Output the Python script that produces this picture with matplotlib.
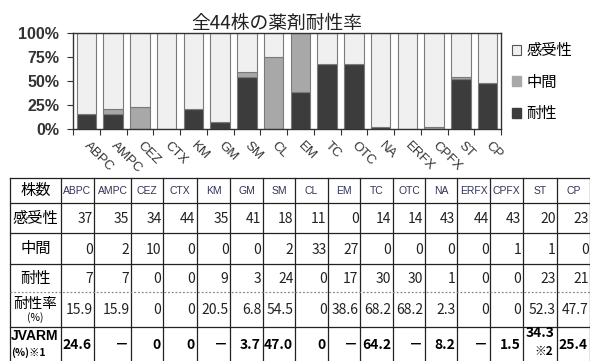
import matplotlib

matplotlib.use("Agg")
import matplotlib.pyplot as plt
import matplotlib.transforms as mtransforms
import numpy as np
from matplotlib.patches import Patch
from matplotlib.ticker import PercentFormatter

plt.rcParams["font.family"] = ["Noto Sans CJK JP", "DejaVu Sans"]

# --- datos ---
drugs = ["ABPC", "AMPC", "CEZ", "CTX", "KM", "GM", "SM", "CL",
         "EM", "TC", "OTC", "NA", "ERFX", "CPFX", "ST", "CP"]
susceptible = [37, 35, 34, 44, 35, 41, 18, 11, 0, 14, 14, 43, 44, 43, 20, 23]
intermediate = [0, 2, 10, 0, 0, 0, 2, 33, 27, 0, 0, 0, 0, 1, 1, 0]
resistant = [7, 7, 0, 0, 9, 3, 24, 0, 17, 30, 30, 1, 0, 0, 23, 21]
resist_rate = ["15.9", "15.9", "0", "0", "20.5", "6.8", "54.5", "0",
               "38.6", "68.2", "68.2", "2.3", "0", "0", "52.3", "47.7"]
jvarm = ["24.6", "－", "0", "0", "－", "3.7", "47.0", "0",
         "－", "64.2", "－", "8.2", "－", "1.5", "34.3\n※2", "25.4"]
row_labels = ["感受性", "中間", "耐性", "耐性率", "JVARM"]

C_RES = "#3c3c3c"
C_MID = "#a8a8a8"
C_SUS = "#f0f0f0"
EDGE = "#7a7a7a"

fig = plt.figure(figsize=(5.9, 3.61), dpi=100)

# --- grafico de barras ---
ax = fig.add_axes([73 / 590, 1 - 129 / 361, 428 / 590, 96 / 361])
tot = np.array(susceptible) + np.array(intermediate) + np.array(resistant)
r = np.array(resistant) / tot
m = np.array(intermediate) / tot
s = np.array(susceptible) / tot
x = np.arange(len(drugs))
w = 0.72
ax.bar(x, r, w, color=C_RES, edgecolor=EDGE, lw=0.8)
ax.bar(x, m, w, bottom=r, color=C_MID, edgecolor=EDGE, lw=0.8)
ax.bar(x, s, w, bottom=r + m, color=C_SUS, edgecolor=EDGE, lw=0.8)
ax.set_xlim(-0.5, len(drugs) - 0.5)
ax.set_ylim(0, 1)
ax.set_yticks([0, 0.25, 0.5, 0.75, 1.0])
ax.yaxis.set_major_formatter(PercentFormatter(1.0, decimals=0))
for lab in ax.get_yticklabels():
    lab.set_family("Liberation Sans")
    lab.set_fontweight("bold")
    lab.set_fontsize(11.5)
    lab.set_color("#333333")
ax.set_xticks(np.arange(-0.5, len(drugs)), labels=[""] * (len(drugs) + 1))
ax.set_xticks(x, minor=True)
ax.set_xticklabels(drugs, minor=True, rotation=-45, ha="left", va="center",
                   rotation_mode="anchor", family="Liberation Sans", fontsize=9.5,
                   color="#333333")
shift = mtransforms.ScaledTranslation(-4 / 100, 0, fig.dpi_scale_trans)
for lab in ax.get_xticklabels(minor=True):
    lab.set_transform(lab.get_transform() + shift)
ax.tick_params(axis="x", which="minor", length=0, pad=11)
ax.tick_params(axis="x", which="major", length=4, color="#333333")
ax.tick_params(axis="y", length=4, color="#333333", pad=6)
for sp in ax.spines.values():
    sp.set_color("#333333")
    sp.set_linewidth(1.0)

fig.text(277 / 590, 1 - 23 / 361, "全44株の薬剤耐性率", ha="center", va="center",
         fontsize=13.5, color="#222222")

handles = [Patch(facecolor=C_SUS, edgecolor="#555555", lw=0.8),
           Patch(facecolor=C_MID, edgecolor=C_MID),
           Patch(facecolor=C_RES, edgecolor=C_RES)]
ax.legend(handles, ["感受性", "中間", "耐性"], loc="upper left",
          bbox_to_anchor=(1.005, 1.0), frameon=False, fontsize=11,
          handlelength=0.6, handleheight=0.6, handletextpad=0.3,
          labelspacing=0.95, borderaxespad=0.2)

# --- tabla ---
tb = fig.add_axes([0, 0, 1, 1])
tb.set_xlim(0, 590)
tb.set_ylim(361, 0)
tb.axis("off")
col_edges = [10, 61, 94, 131, 163, 197, 230, 263, 295, 328, 360, 393, 425,
             457, 490, 523, 557, 590]
row_edges = [178, 203, 233, 264, 292, 327, 370]
line_c = "#222222"
for xe in col_edges:
    tb.plot([xe, xe], [row_edges[0], row_edges[-1]], color=line_c, lw=0.9)
for i, ye in enumerate(row_edges[:-1]):
    if i == 4:
        tb.plot([col_edges[0], col_edges[-1]], [ye, ye], color="#888888",
                lw=0.9, ls=(0, (1.5, 1.5)))
    else:
        tb.plot([col_edges[0], col_edges[-1]], [ye, ye], color=line_c, lw=0.9)

num_font = ["Liberation Sans Narrow", "Noto Sans CJK JP"]


def cy(i):
    return (row_edges[i] + row_edges[i + 1]) / 2


def cx(j):
    return (col_edges[j] + col_edges[j + 1]) / 2


tb.text(cx(0), cy(0), "株数", ha="center", va="center", fontsize=11)
for j, d in enumerate(drugs):
    tb.text(cx(j + 1), cy(0), d, ha="center", va="center", fontsize=7.5,
            family="Liberation Sans", color="#333355")

tb.text(cx(0), cy(1), row_labels[0], ha="center", va="center", fontsize=11)
tb.text(cx(0), cy(2), row_labels[1], ha="center", va="center", fontsize=11)
tb.text(cx(0), cy(3), row_labels[2], ha="center", va="center", fontsize=11)
tb.text(cx(0), cy(4) - 6, row_labels[3], ha="center", va="center", fontsize=10.5)
tb.text(cx(0), cy(4) + 8, "(%)", ha="center", va="center", fontsize=7.5)
tb.text(col_edges[0] + 1, 336, row_labels[4], ha="left", va="center",
        fontsize=10, fontweight="bold", family="Liberation Sans")
tb.text(col_edges[0] + 1, 353, "(%)※1", ha="left", va="center",
        fontsize=7.5, fontweight="bold")

rows = [susceptible, intermediate, resistant, resist_rate]
for i, vals in enumerate(rows):
    for j, v in enumerate(vals):
        tb.text(col_edges[j + 2] - 1.5, cy(i + 1) + 1, str(v), ha="right",
                va="center", fontsize=10, family=num_font, color="#222222")
for j, v in enumerate(jvarm):
    if "\n" in v:
        a, b = v.split("\n")
        tb.text(col_edges[j + 2] - 2, 333, a, ha="right", va="center",
                fontsize=10, fontweight="bold", family=num_font)
        tb.text(col_edges[j + 2] - 4, 351, b, ha="right", va="center",
                fontsize=8.5, fontweight="bold", family=num_font)
    else:
        tb.text(col_edges[j + 2] - 2, 345, v, ha="right", va="center",
                fontsize=10, fontweight="bold", family=num_font)

fig.savefig("out.png", dpi=100)
